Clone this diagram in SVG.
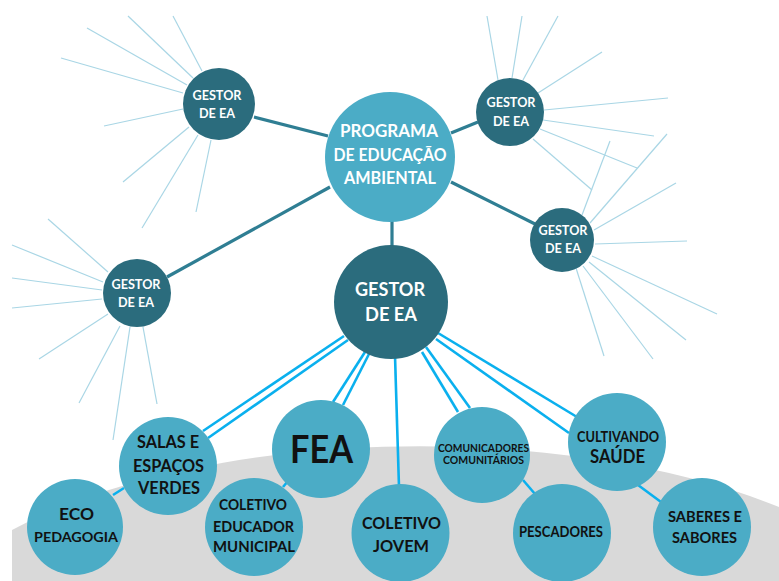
<svg xmlns="http://www.w3.org/2000/svg" width="779" height="581" viewBox="0 0 779 581">
<style>
.bg{fill:#D9D9D9}
.dark{fill:#2B6C7D}
.light{fill:#4BACC6}
.ray{stroke:#A9D6E5;stroke-width:1.2;fill:none}
.teal{stroke:#2F7E93;stroke-width:3.2;fill:none}
.blue{stroke:#0AB0EE;stroke-width:2.6;fill:none}
.wt{fill:#FFFFFF;font-family:Lato,"Open Sans",sans-serif;font-weight:bold;text-anchor:middle}
.bt{fill:#111111;font-family:Lato,"Open Sans",sans-serif;font-weight:bold;text-anchor:middle}
</style>
<rect width="779" height="581" fill="#FFFFFF"/>
<path class="bg" d="M12,530 A520,220 0 0 1 779,507 V581 H12 Z"/>
<g id="rays">
<line class="ray" x1="173" y1="16" x2="202" y2="71"/>
<line class="ray" x1="128" y1="16" x2="193" y2="78"/>
<line class="ray" x1="87" y1="28" x2="187" y2="85"/>
<line class="ray" x1="61" y1="58" x2="183" y2="93"/>
<line class="ray" x1="104" y1="126" x2="183" y2="109"/>
<line class="ray" x1="123" y1="182" x2="189" y2="127"/>
<line class="ray" x1="142" y1="228" x2="198" y2="135"/>
<line class="ray" x1="196" y1="212" x2="211" y2="140"/>
<line class="ray" x1="487" y1="16" x2="498" y2="80"/>
<line class="ray" x1="522" y1="16" x2="512" y2="78"/>
<line class="ray" x1="558" y1="16" x2="523" y2="80"/>
<line class="ray" x1="602" y1="52" x2="538" y2="93"/>
<line class="ray" x1="668" y1="98" x2="544" y2="110"/>
<line class="ray" x1="654" y1="136" x2="543" y2="120"/>
<line class="ray" x1="637" y1="168" x2="540" y2="129"/>
<line class="ray" x1="592" y1="190" x2="533" y2="139"/>
<line class="ray" x1="610" y1="141" x2="582" y2="215"/>
<line class="ray" x1="667" y1="134" x2="590" y2="223"/>
<line class="ray" x1="676" y1="183" x2="594" y2="230"/>
<line class="ray" x1="687" y1="241" x2="595" y2="244"/>
<line class="ray" x1="717" y1="314" x2="592" y2="256"/>
<line class="ray" x1="686" y1="340" x2="589" y2="262"/>
<line class="ray" x1="653" y1="359" x2="583" y2="266"/>
<line class="ray" x1="604" y1="356" x2="576" y2="268"/>
<line class="ray" x1="48" y1="219" x2="108" y2="272"/>
<line class="ray" x1="12" y1="245" x2="103" y2="282"/>
<line class="ray" x1="12" y1="278" x2="102" y2="290"/>
<line class="ray" x1="12" y1="308" x2="102" y2="299"/>
<line class="ray" x1="39" y1="359" x2="108" y2="314"/>
<line class="ray" x1="79" y1="403" x2="120" y2="326"/>
<line class="ray" x1="113" y1="440" x2="130" y2="327"/>
<line class="ray" x1="157" y1="404" x2="143" y2="327"/>
</g>
<g id="connectors">
<line class="teal" x1="254" y1="117" x2="328" y2="136"/>
<line class="teal" x1="451" y1="133" x2="478" y2="122"/>
<line class="teal" x1="451" y1="182" x2="535" y2="224"/>
<line class="teal" x1="330" y1="187" x2="167" y2="277"/>
<line class="teal" x1="392" y1="220" x2="392" y2="248"/>
<line class="blue" x1="344" y1="336" x2="203" y2="431"/>
<line class="blue" x1="348" y1="340" x2="208" y2="438"/>
<line class="blue" x1="365" y1="352" x2="333" y2="402"/>
<line class="blue" x1="369" y1="354" x2="343" y2="405"/>
<line class="blue" x1="395" y1="356" x2="399" y2="487"/>
<line class="blue" x1="422" y1="352" x2="458" y2="412"/>
<line class="blue" x1="426" y1="347" x2="470" y2="408"/>
<line class="blue" x1="438" y1="333" x2="577" y2="417"/>
<line class="blue" x1="436" y1="339" x2="569" y2="433"/>
<line class="blue" x1="523" y1="480" x2="535" y2="494"/>
<line class="blue" x1="638" y1="485" x2="661" y2="502"/>
<line class="blue" x1="113" y1="495" x2="124" y2="488"/>
<line class="blue" x1="283" y1="487" x2="288" y2="481"/>
</g>
<g id="programa">
<circle class="light" cx="390" cy="157" r="65"/>
<text class="wt" font-size="16.5" x="389" y="137" textLength="98" lengthAdjust="spacingAndGlyphs">PROGRAMA</text>
<text class="wt" font-size="16.5" x="390" y="161" textLength="113" lengthAdjust="spacingAndGlyphs">DE EDUCAÇÃO</text>
<text class="wt" font-size="16.5" x="390" y="184" textLength="92" lengthAdjust="spacingAndGlyphs">AMBIENTAL</text>
</g>
<g id="gestor-tl">
<circle class="dark" cx="219" cy="104" r="36"/>
<text class="wt" font-size="13.5" x="217" y="100" textLength="49" lengthAdjust="spacingAndGlyphs">GESTOR</text>
<text class="wt" font-size="13.5" x="217" y="118" textLength="36" lengthAdjust="spacingAndGlyphs">DE EA</text>
</g>
<g id="gestor-tr">
<circle class="dark" cx="510" cy="112" r="34"/>
<text class="wt" font-size="13.5" x="511" y="107" textLength="49" lengthAdjust="spacingAndGlyphs">GESTOR</text>
<text class="wt" font-size="13.5" x="511" y="126" textLength="36" lengthAdjust="spacingAndGlyphs">DE EA</text>
</g>
<g id="gestor-r">
<circle class="dark" cx="562" cy="240" r="32"/>
<text class="wt" font-size="13.5" x="563" y="235" textLength="49" lengthAdjust="spacingAndGlyphs">GESTOR</text>
<text class="wt" font-size="13.5" x="563" y="253" textLength="36" lengthAdjust="spacingAndGlyphs">DE EA</text>
</g>
<g id="gestor-l">
<circle class="dark" cx="137" cy="293" r="34"/>
<text class="wt" font-size="13.5" x="136" y="289" textLength="49" lengthAdjust="spacingAndGlyphs">GESTOR</text>
<text class="wt" font-size="13.5" x="136" y="307" textLength="36" lengthAdjust="spacingAndGlyphs">DE EA</text>
</g>
<g id="gestor-main">
<circle class="dark" cx="391" cy="302" r="57"/>
<text class="wt" font-size="19.5" x="390" y="296" textLength="70" lengthAdjust="spacingAndGlyphs">GESTOR</text>
<text class="wt" font-size="19.5" x="391" y="321" textLength="52" lengthAdjust="spacingAndGlyphs">DE EA</text>
</g>
<g id="salas">
<circle class="light" cx="168" cy="466" r="49"/>
<text class="bt" font-size="16.5" x="168" y="448" textLength="62" lengthAdjust="spacingAndGlyphs">SALAS E</text>
<text class="bt" font-size="16.5" x="168.5" y="472" textLength="71" lengthAdjust="spacingAndGlyphs">ESPAÇOS</text>
<text class="bt" font-size="16.5" x="169" y="494" textLength="62" lengthAdjust="spacingAndGlyphs">VERDES</text>
</g>
<g id="eco">
<circle class="light" cx="75" cy="527" r="48"/>
<text class="bt" font-size="17" x="76.5" y="520" textLength="35" lengthAdjust="spacingAndGlyphs">ECO</text>
<text class="bt" font-size="14" x="76" y="542" textLength="84" lengthAdjust="spacingAndGlyphs">PEDAGOGIA</text>
</g>
<g id="fea">
<circle class="light" cx="321" cy="449" r="49"/>
<text class="bt" font-size="39" x="321.5" y="463" textLength="63" lengthAdjust="spacingAndGlyphs">FEA</text>
</g>
<g id="coletivo-educador">
<circle class="light" cx="254" cy="527" r="49"/>
<text class="bt" font-size="14.5" x="253" y="510" textLength="68" lengthAdjust="spacingAndGlyphs">COLETIVO</text>
<text class="bt" font-size="14.5" x="253.5" y="532" textLength="81" lengthAdjust="spacingAndGlyphs">EDUCADOR</text>
<text class="bt" font-size="14.5" x="254" y="552" textLength="82" lengthAdjust="spacingAndGlyphs">MUNICIPAL</text>
</g>
<g id="coletivo-jovem">
<circle class="light" cx="400.5" cy="533" r="49"/>
<text class="bt" font-size="17" x="401.5" y="529" textLength="79" lengthAdjust="spacingAndGlyphs">COLETIVO</text>
<text class="bt" font-size="17" x="401" y="552" textLength="56" lengthAdjust="spacingAndGlyphs">JOVEM</text>
</g>
<g id="comunicadores">
<circle class="light" cx="482" cy="455" r="48"/>
<text class="bt" font-size="11" x="483.5" y="452" textLength="91" lengthAdjust="spacingAndGlyphs">COMUNICADORES</text>
<text class="bt" font-size="11" x="483.5" y="464" textLength="81" lengthAdjust="spacingAndGlyphs">COMUNITÁRIOS</text>
</g>
<g id="pescadores">
<circle class="light" cx="562" cy="533" r="49"/>
<text class="bt" font-size="14.5" x="561" y="537" textLength="84" lengthAdjust="spacingAndGlyphs">PESCADORES</text>
</g>
<g id="cultivando">
<circle class="light" cx="617" cy="442" r="49"/>
<text class="bt" font-size="14.5" x="618" y="442" textLength="82" lengthAdjust="spacingAndGlyphs">CULTIVANDO</text>
<text class="bt" font-size="18" x="617.5" y="463" textLength="55" lengthAdjust="spacingAndGlyphs">SAÚDE</text>
</g>
<g id="saberes">
<circle class="light" cx="702" cy="527" r="49"/>
<text class="bt" font-size="15.5" x="705" y="522" textLength="74" lengthAdjust="spacingAndGlyphs">SABERES E</text>
<text class="bt" font-size="15.5" x="704.5" y="543" textLength="65" lengthAdjust="spacingAndGlyphs">SABORES</text>
</g>
</svg>
